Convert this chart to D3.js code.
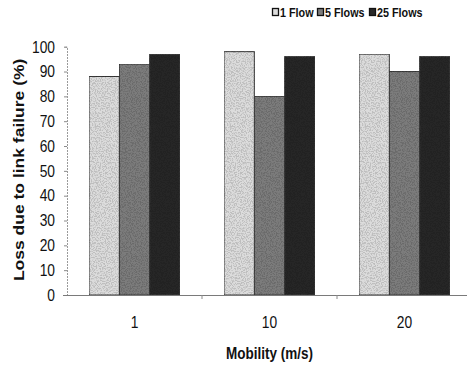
<!DOCTYPE html>
<html>
<head>
<meta charset="utf-8">
<script src="https://cdn.jsdelivr.net/npm/d3@7"></script>
<style>
  html, body { margin: 0; padding: 0; background: #fff; }
  svg { display: block; font-family: "Liberation Sans", Arial, sans-serif; }
</style>
</head>
<body>
<svg id="chart" width="467" height="366"></svg>
<script>
// Mobility speeds (m/s) on the x axis
const categories = ["1", "10", "20"];
// Number of concurrent flows, one bar per series
const seriesNames = ["1 Flow", "5 Flows", "25 Flows"];
// Share of packet loss caused by link failure (%)
const oneFlow = [88, 98, 97];
const fiveFlows = [93, 80, 90];
const twentyFiveFlows = [97, 96, 96];
const yTicks = [0, 10, 20, 30, 40, 50, 60, 70, 80, 90, 100];

const seriesValues = [oneFlow, fiveFlows, twentyFiveFlows];
const fills = ["#dcdcdc", "#7c7c7c", "#282828"];
const textStretch = 1.2; // glyphs are drawn slightly taller than wide

const svg = d3.select("#chart");
const defs = svg.append("defs");

// Stipple texture for the bar fills
const f = defs.append("filter").attr("id", "grain")
  .attr("x", 0).attr("y", 0).attr("width", 1).attr("height", 1);
f.append("feTurbulence").attr("type", "fractalNoise")
  .attr("baseFrequency", 0.8).attr("numOctaves", 2).attr("seed", 7).attr("result", "noise");
f.append("feColorMatrix").attr("in", "noise").attr("type", "matrix")
  .attr("values", "0 0 0 0 0  0 0 0 0 0  0 0 0 0 0  6 0 0 0 -2.7")
  .attr("result", "dots");
f.append("feComposite").attr("in", "dots").attr("in2", "SourceGraphic")
  .attr("operator", "in").attr("result", "dotsIn");
f.append("feComponentTransfer").attr("in", "dotsIn").attr("result", "soft")
  .append("feFuncA").attr("type", "linear").attr("slope", 0.28);
const fm = f.append("feMerge");
fm.append("feMergeNode").attr("in", "SourceGraphic");
fm.append("feMergeNode").attr("in", "soft");

const plotLeft = 67, plotRight = 472, plotTop = 46.7, plotBottom = 295;

const x0 = d3.scaleBand().domain(categories).range([plotLeft, plotRight])
  .paddingInner(0.326).paddingOuter(0.163);
const x1 = d3.scaleBand().domain(seriesNames).range([0, x0.bandwidth()]);
const y = d3.scaleLinear().domain([0, 100]).range([plotBottom, plotTop]);

// Bars
const groups = svg.append("g").selectAll("g").data(categories).join("g")
  .attr("transform", d => `translate(${x0(d)},0)`);
groups.selectAll("rect")
  .data((c, ci) => seriesNames.map((s, si) => ({ s, si, v: seriesValues[si][ci] })))
  .join("rect")
  .attr("x", d => x1(d.s))
  .attr("y", d => y(d.v))
  .attr("width", x1.bandwidth())
  .attr("height", d => y(0) - y(d.v))
  .attr("fill", d => fills[d.si])
  .attr("stroke", "#3a3a3a")
  .attr("stroke-width", 1)
  .attr("filter", "url(#grain)");

// Y axis
const yAxis = svg.append("g").attr("transform", `translate(${plotLeft},0)`)
  .call(d3.axisLeft(y).tickValues(yTicks).tickSize(3).tickPadding(9));
yAxis.select(".domain").attr("stroke", "#9a9a9a").attr("stroke-dasharray", "2,1");
yAxis.selectAll(".tick line").attr("stroke", "#8a8a8a");
yAxis.selectAll("text").attr("font-size", 13.8).attr("fill", "#111")
  .attr("transform", `scale(1,${textStretch})`);

// X axis baseline and labels
const xAxis = svg.append("g").attr("transform", `translate(0,${plotBottom})`)
  .call(d3.axisBottom(x0).tickSize(0).tickPadding(18));
xAxis.select(".domain").attr("stroke", "#7a7a7a").attr("d", `M${plotLeft - 4},0.5H${plotRight}`);
xAxis.selectAll("text").attr("font-size", 13.8).attr("fill", "#111")
  .attr("transform", `scale(1,${textStretch})`);

// Category separators on the x axis
const sep = categories.slice(0, -1).map(c => x0(c) + x0.bandwidth() + (x0.step() - x0.bandwidth()) / 2);
svg.append("g").selectAll("line").data(sep).join("line")
  .attr("x1", d => d).attr("x2", d => d)
  .attr("y1", plotBottom).attr("y2", plotBottom + 4)
  .attr("stroke", "#8a8a8a");

// Axis titles
svg.append("text")
  .attr("transform", `translate(${(x0("1") + x0("20") + x0.bandwidth()) / 2},359) scale(1,${textStretch})`)
  .attr("text-anchor", "middle")
  .attr("font-size", 13.5).attr("font-weight", "bold").attr("fill", "#111")
  .text("Mobility (m/s)");

svg.append("text")
  .attr("transform", `translate(24,${(plotTop + plotBottom) / 2 - 1}) rotate(-90) scale(1.25,1)`)
  .attr("text-anchor", "middle")
  .attr("font-size", 14).attr("font-weight", "bold").attr("fill", "#111")
  .text("Loss due to link failure (%)");

// Legend
const legend = svg.append("g").attr("transform", "translate(272,8)");
const legendX = [0, 45, 97];
seriesNames.forEach((name, i) => {
  const g = legend.append("g").attr("transform", `translate(${legendX[i]},0)`);
  g.append("rect").attr("x", 0.5).attr("y", 0.5).attr("width", 6).attr("height", 7)
    .attr("fill", fills[i]).attr("stroke", "#111").attr("stroke-width", 1.3);
  g.append("text")
    .attr("transform", `translate(8,8.5) scale(1,${textStretch})`)
    .attr("font-size", 10.8).attr("font-weight", "bold").attr("fill", "#111")
    .text(name);
});
</script>
</body>
</html>
